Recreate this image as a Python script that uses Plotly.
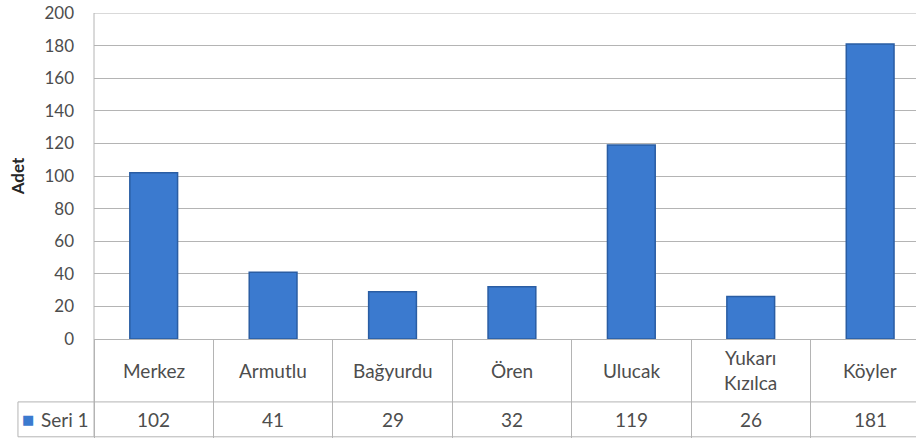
import plotly.graph_objects as go

CATEGORIES = ["Merkez", "Armutlu", "Bağyurdu", "Ören", "Ulucak", "Yukarı<br>Kızılca", "Köyler"]
VALUES = [102, 41, 29, 32, 119, 26, 181]
SERIES_NAME = "Seri 1"
Y_MAX = 200

BAR_COLOR = "#3b7acf"
BAR_EDGE = "#2a5da3"
GRID = "#b4b4b4"
TEXT = "#4d4d4d"
FONT = "Lato"
TICK_FS = 17
TABLE_FS = 19

# table row positions (paper coords, below the plot area)
ROW_SPLIT = -0.193
ROW_BOTTOM = -0.30
LEFT_EDGE = -0.0925

fig = go.Figure()
fig.add_trace(go.Bar(
    x=CATEGORIES,
    y=VALUES,
    name=SERIES_NAME,
    width=0.4,
    marker=dict(color=BAR_COLOR, line=dict(color=BAR_EDGE, width=1.5)),
    showlegend=False,
))

# category names and values laid out like an Excel data table
annotations = []
for cat, val in zip(CATEGORIES, VALUES):
    annotations.append(dict(
        x=cat, y=ROW_SPLIT / 2, xref="x", yref="paper",
        text=cat, showarrow=False, font=dict(size=TABLE_FS, color=TEXT, family=FONT),
        xanchor="center", yanchor="middle",
    ))
    annotations.append(dict(
        x=cat, y=(ROW_SPLIT + ROW_BOTTOM) / 2, xref="x", yref="paper",
        text=str(val), showarrow=False, font=dict(size=TABLE_FS, color=TEXT, family=FONT),
        xanchor="center", yanchor="middle",
    ))
# legend key of the table row
annotations.append(dict(
    x=-0.0803, y=(ROW_SPLIT + ROW_BOTTOM) / 2, xref="paper", yref="paper",
    text="■", showarrow=False, font=dict(size=13, color=BAR_COLOR, family="DejaVu Sans"),
    xanchor="center", yanchor="middle",
))
annotations.append(dict(
    x=-0.0353, y=(ROW_SPLIT + ROW_BOTTOM) / 2, xref="paper", yref="paper",
    text=SERIES_NAME, showarrow=False, font=dict(size=TABLE_FS, color=TEXT, family=FONT),
    xanchor="center", yanchor="middle",
))

shapes = [
    dict(type="line", xref="paper", yref="y", x0=0, x1=1,
         y0=Y_MAX, y1=Y_MAX, line=dict(color=GRID, width=1)),
    dict(type="line", xref="paper", yref="paper", x0=LEFT_EDGE, x1=1.01,
         y0=ROW_SPLIT, y1=ROW_SPLIT, line=dict(color=GRID, width=1)),
    dict(type="line", xref="paper", yref="paper", x0=LEFT_EDGE, x1=1.01,
         y0=ROW_BOTTOM, y1=ROW_BOTTOM, line=dict(color=GRID, width=1)),
    dict(type="line", xref="paper", yref="paper", x0=LEFT_EDGE, x1=LEFT_EDGE,
         y0=ROW_SPLIT, y1=ROW_BOTTOM, line=dict(color=GRID, width=1)),
    dict(type="line", xref="paper", yref="paper", x0=0, x1=0,
         y0=1, y1=ROW_BOTTOM, line=dict(color=GRID, width=1)),
]

fig.update_layout(
    width=916, height=439,
    paper_bgcolor="white", plot_bgcolor="white",
    margin=dict(l=94, r=0, t=13, b=100, autoexpand=False),
    font=dict(family=FONT, color=TEXT),
    xaxis=dict(
        type="category",
        range=[-0.5, 6.384],
        showticklabels=False,
        showgrid=False, zeroline=False,
        showline=True, linecolor=GRID, linewidth=1,
        ticks="outside", tickson="boundaries", ticklen=98, tickcolor=GRID, tickwidth=1,
    ),
    yaxis=dict(
        range=[0, Y_MAX], dtick=20,
        showgrid=True, gridcolor=GRID, gridwidth=1,
        zeroline=False, showline=False,
        ticks="", ticklabelstandoff=19, ticklabeloverflow="allow",
        tickfont=dict(size=TICK_FS, color=TEXT, family=FONT),
        title=dict(text="<b>Adet</b>", font=dict(size=17, color="#262626", family=FONT), standoff=15),
    ),
    annotations=annotations,
    shapes=shapes,
)

# drop the default 8px body margin so the figure fills the window
fig.write_html(
    "out.html",
    config={"displayModeBar": False},
    post_script="document.body.style.margin = '0';",
)
